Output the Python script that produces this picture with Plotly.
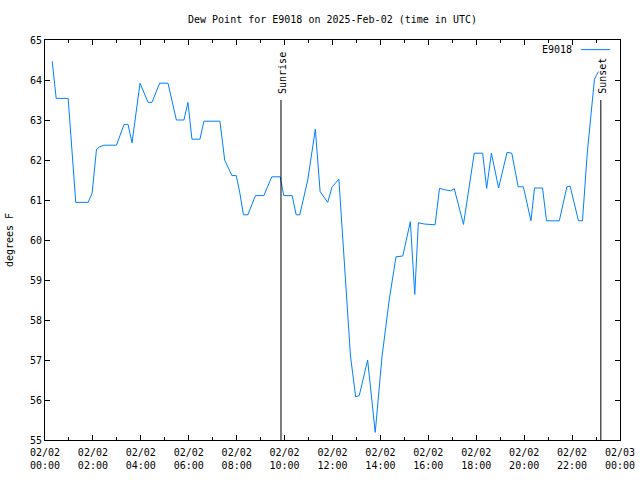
import plotly.graph_objects as go

station = "E9018"
day = "2025-02-02"
times = ["00:18", "00:28", "00:58", "01:17", "01:48", "01:58", "02:09", "02:17", "02:28", "02:59",
         "03:18", "03:28", "03:38", "03:58", "04:18", "04:28", "04:47", "05:08", "05:29", "05:48",
         "05:58", "06:08", "06:28", "06:38", "07:18", "07:30", "07:48", "07:59", "08:08", "08:17",
         "08:28", "08:47", "09:08", "09:28", "09:49", "09:58", "10:19", "10:29", "10:38", "10:58",
         "11:17", "11:29", "11:48", "11:59", "12:16", "12:45", "12:58", "13:07", "13:28", "13:47",
         "14:04", "14:22", "14:39", "14:56", "15:15", "15:26", "15:35", "15:50", "16:17", "16:28",
         "16:44", "16:56", "17:05", "17:28", "17:55", "18:16", "18:26", "18:38", "18:56", "19:17",
         "19:29", "19:45", "19:58", "20:17", "20:26", "20:46", "20:56", "21:28", "21:47", "21:55",
         "22:16", "22:26", "22:38", "22:51", "22:56", "23:01", "23:06"]
dewpoint = [64.47, 63.54, 63.54, 60.94, 60.94, 61.17, 62.27, 62.33, 62.37, 62.37,
            62.89, 62.89, 62.43, 63.92, 63.44, 63.44, 63.92, 63.92, 63.00, 63.00,
            63.44, 62.52, 62.52, 62.97, 62.97, 62.00, 61.61, 61.61, 61.17, 60.63,
            60.63, 61.11, 61.11, 61.58, 61.58, 61.11, 61.11, 60.63, 60.63, 61.50,
            62.77, 61.21, 60.94, 61.33, 61.52, 57.10, 56.08, 56.11, 57.00, 55.19,
            57.08, 58.50, 59.58, 59.60, 60.46, 58.64, 60.43, 60.40, 60.38, 61.29,
            61.25, 61.23, 61.28, 60.39, 62.17, 62.17, 61.29, 62.17, 61.30, 62.19,
            62.17, 61.33, 61.33, 60.48, 61.30, 61.30, 60.48, 60.48, 61.33, 61.35,
            60.48, 60.48, 62.17, 63.50, 64.02, 64.12, 64.21]
sun_events = ["Sunrise", "Sunset"]
sun_times = ["09:51", "23:12"]
sun_marker_top = 63.5

x = [f"{day} {t}" for t in times]
font = "DejaVu Sans Mono"
line_color = "rgb(0,128,255)"

fig = go.Figure()
fig.add_trace(go.Scatter(x=x, y=dewpoint, mode="lines", name=station,
                         line=dict(color=line_color, width=1), showlegend=False))

shapes = []
annotations = []
for name, t in zip(sun_events, sun_times):
    xs = f"{day} {t}"
    shapes.append(dict(type="line", xref="x", yref="y", x0=xs, x1=xs, y0=55, y1=sun_marker_top,
                       line=dict(color="black", width=1)))
    annotations.append(dict(x=xs, y=sun_marker_top, xref="x", yref="y", text=name, textangle=-90,
                            showarrow=False, xanchor="center", yanchor="bottom", yshift=4, xshift=1,
                            font=dict(family=font, size=10, color="black")))

# gnuplot-style legend: text then line sample
annotations.append(dict(x=0.92, y=0.976, xref="paper", yref="paper", text=station, showarrow=False,
                        xanchor="right", yanchor="middle", font=dict(family=font, size=10, color="black")))
shapes.append(dict(type="line", xref="paper", yref="paper", x0=0.932, x1=0.983, y0=0.976, y1=0.976,
                   line=dict(color=line_color, width=1)))

fig.update_layout(
    width=640, height=480,
    margin=dict(l=45, r=20, t=40, b=40),
    paper_bgcolor="white", plot_bgcolor="white",
    font=dict(family=font, size=10, color="black"),
    title=dict(text=f"Dew Point for {station} on 2025-Feb-02 (time in UTC)", x=0.5195, xanchor="center",
               y=0.96, yanchor="middle", font=dict(family=font, size=10)),
    shapes=shapes, annotations=annotations,
)
fig.update_xaxes(type="date", range=[f"{day} 00:00", "2025-02-03 00:00"], dtick=7200000,
                 tick0=f"{day} 00:00", tickformat="%m/%d<br>%H:%M", automargin=False,
                 ticks="inside", ticklen=5, tickcolor="black", showgrid=False, zeroline=False,
                 showline=True, linecolor="black", linewidth=1, mirror="allticks",
                 ticklabelstandoff=3,
                 minor=dict(ticks="inside", ticklen=3, dtick=3600000, tickcolor="black", showgrid=False),
                 tickfont=dict(family=font, size=10))
fig.update_yaxes(range=[55, 65], dtick=1, ticks="inside", ticklen=5, tickcolor="black", showgrid=False,
                 zeroline=False, showline=True, linecolor="black", linewidth=1, mirror="allticks",
                 automargin=False,
                 title=dict(text="degrees F", standoff=14, font=dict(family=font, size=10)),
                 tickfont=dict(family=font, size=10))
fig.write_html("out.html")
